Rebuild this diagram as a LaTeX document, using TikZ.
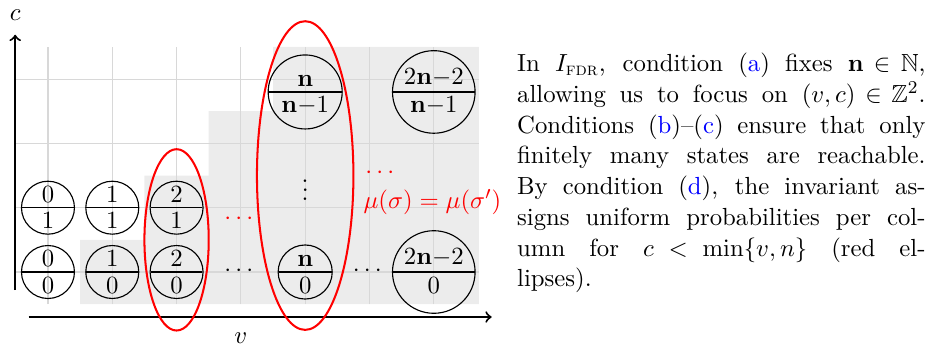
\documentclass[tikz,border=0pt]{standalone}
\usetikzlibrary{shapes.multipart}
\usepackage{amsmath,amssymb}
\definecolor{cellgray}{HTML}{ECECEC}
\definecolor{gridgray}{HTML}{D8D8D8}
\begin{document}
\begin{tikzpicture}[x=1cm,y=1cm,
  font=\fontsize{10.95}{13.6}\selectfont,
  st/.style={circle split, draw, line width=0.5pt, inner xsep=0.4pt, inner ysep=2pt},
  axis/.style={line width=0.9pt, ->},
  ell/.style={draw=red, line width=0.9pt}]
\useasboundingbox (-0.746,-1.213) rectangle (13.67,4.23);
% shaded reachable region
\fill[cellgray] (0.5,-0.5) -- (0.5,0.5) -- (1.5,0.5) -- (1.5,1.5) -- (2.5,1.5)
  -- (2.5,2.5) -- (3.5,2.5) -- (3.5,3.5) -- (6.7,3.5) -- (6.7,-0.5) -- cycle;
% grid
\foreach \i in {0,...,6} \draw[gridgray, line width=0.5pt] (\i,-0.5) -- (\i,3.5);
\foreach \j in {0,...,3} \draw[gridgray, line width=0.5pt] (-0.5,\j) -- (6.7,\j);
% axes
\coordinate (yb) at (-0.51,-0.28);
\coordinate (yt) at (-0.51,3.69);
\coordinate (xl) at (-0.3,-0.7);
\coordinate (xr) at (6.9,-0.7);
\draw[axis] (yb) -- (yt);
\draw[axis] (xl) -- (xr);
\node (lc) at (-0.51,4.0) {$c$};
\node (lv) at (3,-1.03) {$v$};
% states
\node[st] (s00) at (0,0) {$0$\nodepart{lower}$0$};
\node[st] (s10) at (1,0) {$1$\nodepart{lower}$0$};
\node[st] (s20) at (2,0) {$2$\nodepart{lower}$0$};
\node[st] (s01) at (0,1) {$0$\nodepart{lower}$1$};
\node[st] (s11) at (1,1) {$1$\nodepart{lower}$1$};
\node[st] (s21) at (2,1) {$2$\nodepart{lower}$1$};
\node[st] (s40) at (4,0) {$\mathbf{n}$\nodepart{lower}$0$};
\node[st] (s43) at (4,2.8) {$\mathbf{n}$\nodepart{lower}$\mathbf{n}{-}1$};
\node[st] (s60) at (6,0) {$2\mathbf{n}{-}2$\nodepart{lower}$0$};
\node[st] (s63) at (6,2.8) {$2\mathbf{n}{-}2$\nodepart{lower}$\mathbf{n}{-}1$};
% dots
\node (d30) at (3,0.02) {$\cdots$};
\node (d50) at (5,0.02) {$\cdots$};
\node[red] (d31) at (3,0.82) {$\cdots$};
\node (dv) at (4,1.38) {$\vdots$};
\node[red, anchor=west, inner sep=0pt] (dr) at (4.93,1.54) {$\cdots$};
\node[red, anchor=west, inner sep=0pt] (mu) at (4.9,1.09) {$\mu(\sigma)=\mu(\sigma')$};
% ellipses
\draw[ell] (2,0.5) ellipse [x radius=0.5, y radius=1.41];
\draw[ell] (4,1.5) ellipse [x radius=0.75, y radius=2.4];
% explanatory text
\node[anchor=north west, inner sep=0pt, text width=6.35cm, align=justify] (txt) at (7.29,3.41) {\noindent\thickmuskip=5mu plus 1.5mu\relax
In $I_{\text{\textsc{fdr}}}$, condition (\textcolor{blue}{a}) fixes $\mathbf{n}\in\mathbb{N}$,\linebreak
allowing us to focus on $(v,c)\in\mathbb{Z}^2$.\linebreak
Conditions (\textcolor{blue}{b})--(\textcolor{blue}{c}) ensure that only\linebreak
finitely many states are reachable.\linebreak
By condition (\textcolor{blue}{d}), the invariant as-\linebreak
signs uniform probabilities per col-\linebreak
umn for $c<\min\{v,n\}$ (red el-\linebreak
lipses).};
\end{tikzpicture}
\end{document}
